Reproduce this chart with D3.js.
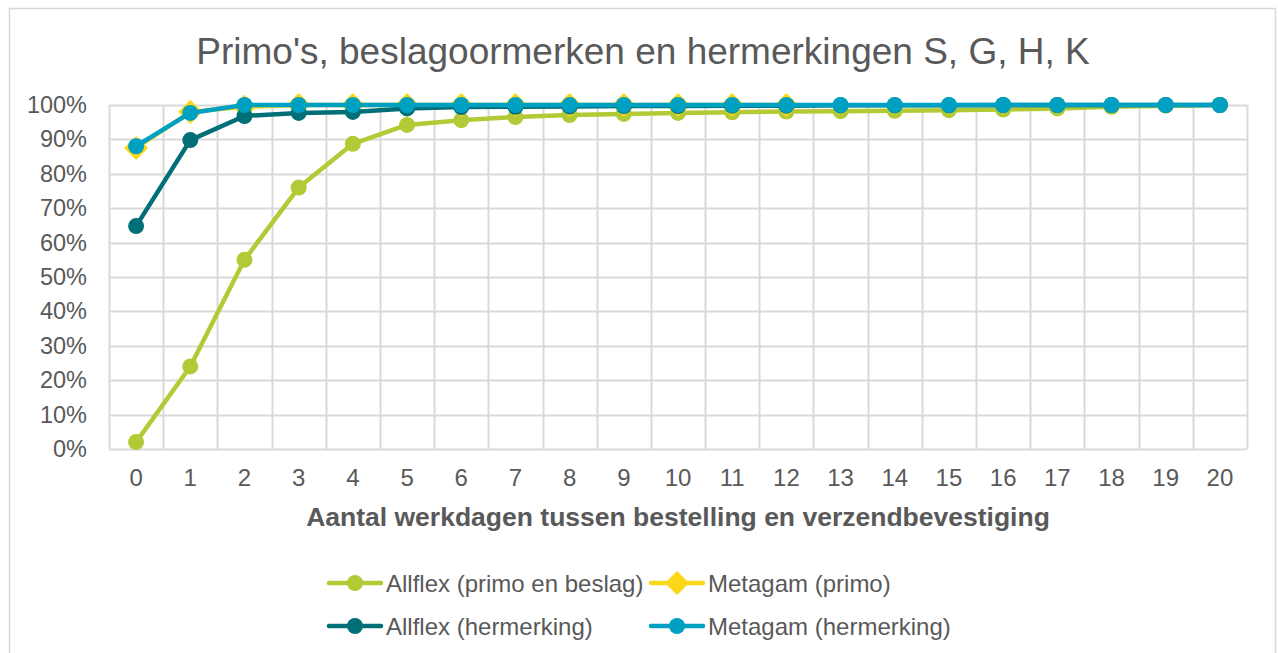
<!DOCTYPE html>
<html>
<head>
<meta charset="utf-8">
<script src="https://cdn.jsdelivr.net/npm/d3@7"></script>
<style>
  body { margin: 0; background: #fff; }
  svg { display: block; font-family: Arial, "Liberation Sans", sans-serif; }
</style>
</head>
<body>
<svg width="1278" height="653"></svg>
<script>
var days = d3.range(0, 21).map(String);
var yTicks = [0, 0.1, 0.2, 0.3, 0.4, 0.5, 0.6, 0.7, 0.8, 0.9, 1];

var allflexPrimo = [0.02, 0.24, 0.55, 0.76, 0.887, 0.942, 0.956, 0.965, 0.971, 0.974, 0.977, 0.979, 0.981, 0.982, 0.983, 0.985, 0.987, 0.99, 0.995, 0.998, 1.0];
// Metagam (primo) stops at day 12
var metagamPrimo = [0.875, 0.98, 0.995, 1, 1, 1, 1, 1, 1, 1, 1, 1, 1];
var allflexHermerking = [0.648, 0.898, 0.968, 0.977, 0.98, 0.99, 0.994, 0.995, 0.996, 0.997, 0.997, 0.998, 0.998, 0.999, 0.999, 0.999, 1, 1, 1, 1, 1];
var metagamHermerking = [0.88, 0.977, 1, 1, 1, 1, 1, 1, 1, 1, 1, 1, 1, 1, 1, 1, 1, 1, 1, 1, 1];

var series = [
  { name: "Allflex (primo en beslag)", values: allflexPrimo, color: "#b3c935", marker: "circle" },
  { name: "Metagam (primo)", values: metagamPrimo, color: "#fbd719", marker: "diamond" },
  { name: "Allflex (hermerking)", values: allflexHermerking, color: "#006f78", marker: "circle" },
  { name: "Metagam (hermerking)", values: metagamHermerking, color: "#00a0c2", marker: "circle" }
];

var svg = d3.select("svg");
var textColor = "#595959";
var gridColor = "#d9d9d9";
var fontFamily = "Arial, 'Liberation Sans', sans-serif";

// chart border
svg.append("rect")
  .attr("x", 9.5).attr("y", 8.5)
  .attr("width", 1266).attr("height", 660)
  .attr("fill", "none").attr("stroke", gridColor).attr("stroke-width", 1.5);

var margin = { left: 109, right: 1247, top: 105, bottom: 449 };

var x = d3.scaleBand().domain(days).range([margin.left, margin.right]).padding(0);
var y = d3.scaleLinear().domain([0, 1]).range([margin.bottom, margin.top]);

// title
svg.append("text")
  .attr("x", 643).attr("y", 64)
  .attr("text-anchor", "middle")
  .attr("font-size", 37)
  .attr("fill", textColor)
  .text("Primo's, beslagoormerken en hermerkingen S, G, H, K");

// horizontal gridlines
svg.append("g").selectAll("line").data(yTicks).enter().append("line")
  .attr("x1", margin.left).attr("x2", margin.right)
  .attr("y1", function (d) { return Math.round(y(d)) + 0.5; })
  .attr("y2", function (d) { return Math.round(y(d)) + 0.5; })
  .attr("stroke", gridColor).attr("stroke-width", 2);

// vertical gridlines at band edges
var edges = days.map(function (d) { return x(d); }).concat([margin.right]);
svg.append("g").selectAll("line").data(edges).enter().append("line")
  .attr("x1", function (d) { return Math.round(d) + 0.5; })
  .attr("x2", function (d) { return Math.round(d) + 0.5; })
  .attr("y1", margin.top).attr("y2", margin.bottom)
  .attr("stroke", gridColor).attr("stroke-width", 2);

// y axis labels
var yAxis = d3.axisLeft(y).tickValues(yTicks).tickFormat(d3.format(".0%")).tickSize(0).tickPadding(22);
var gy = svg.append("g").attr("transform", "translate(" + margin.left + ",0)").call(yAxis);
gy.select(".domain").remove();
gy.selectAll("text").attr("font-size", 23.5).attr("fill", textColor).attr("font-family", fontFamily);

// x axis labels
var xAxis = d3.axisBottom(x).tickSize(0).tickPadding(20);
var gx = svg.append("g").attr("transform", "translate(0," + margin.bottom + ")").call(xAxis);
gx.select(".domain").remove();
gx.selectAll("text").attr("font-size", 24).attr("fill", textColor).attr("font-family", fontFamily);

// x axis title
svg.append("text")
  .attr("x", 678).attr("y", 526)
  .attr("text-anchor", "middle")
  .attr("font-size", 26.5).attr("font-weight", "bold")
  .attr("fill", textColor)
  .text("Aantal werkdagen tussen bestelling en verzendbevestiging");

var line = d3.line()
  .x(function (d, i) { return x(days[i]) + x.bandwidth() / 2; })
  .y(function (d) { return y(d); });

function drawMarker(g, type, cx, cy, color) {
  if (type == "diamond") {
    var h = 11;
    g.append("path")
      .attr("d", "M" + cx + "," + (cy - h) + "L" + (cx + h) + "," + cy + "L" + cx + "," + (cy + h) + "L" + (cx - h) + "," + cy + "Z")
      .attr("fill", color).attr("stroke", color).attr("stroke-width", 1.5).attr("stroke-linejoin", "round");
  }
  else {
    g.append("circle").attr("cx", cx).attr("cy", cy).attr("r", 8).attr("fill", color);
  }
}

series.forEach(function (s) {
  var g = svg.append("g");
  g.append("path")
    .datum(s.values)
    .attr("d", line)
    .attr("fill", "none")
    .attr("stroke", s.color)
    .attr("stroke-width", 4.5)
    .attr("stroke-linejoin", "round");
  s.values.forEach(function (v, i) {
    drawMarker(g, s.marker, x(days[i]) + x.bandwidth() / 2, y(v), s.color);
  });
});

// legend
var legendPos = [
  { x: 327, y: 583 }, { x: 649, y: 583 },
  { x: 327, y: 626 }, { x: 649, y: 626 }
];
series.forEach(function (s, i) {
  var p = legendPos[i];
  var g = svg.append("g");
  g.append("line")
    .attr("x1", p.x + 2).attr("x2", p.x + 54)
    .attr("y1", p.y).attr("y2", p.y)
    .attr("stroke", s.color).attr("stroke-width", 4.5).attr("stroke-linecap", "round");
  drawMarker(g, s.marker, p.x + 28, p.y, s.color);
  g.append("text")
    .attr("x", p.x + 59).attr("y", p.y + 8.5)
    .attr("font-size", 24)
    .attr("fill", textColor)
    .attr("font-family", fontFamily)
    .text(s.name);
});
</script>
</body>
</html>
